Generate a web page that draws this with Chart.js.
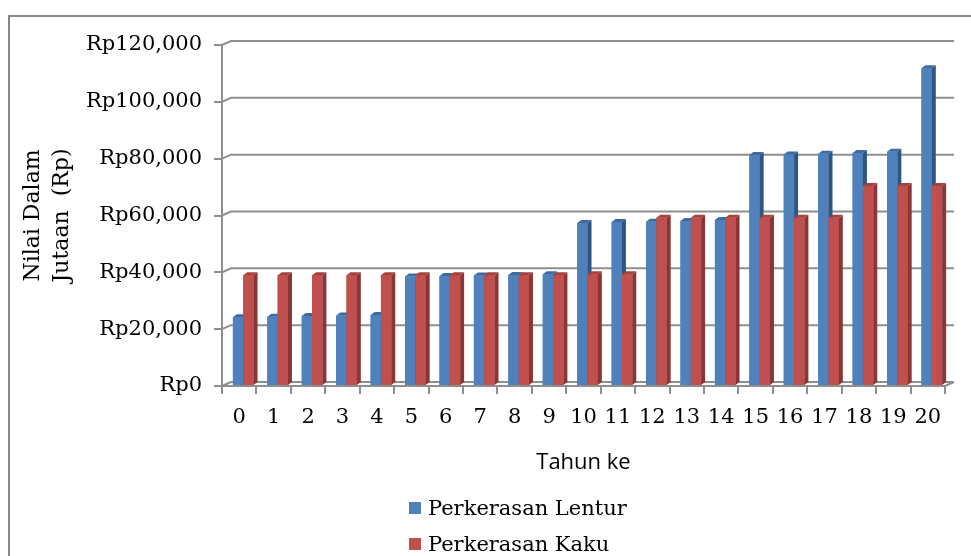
<!DOCTYPE html>
<html>
<head>
<meta charset="utf-8">
<script src="https://cdn.jsdelivr.net/npm/chart.js@4"></script>
<style>
  html, body { margin: 0; padding: 0; background: #fff; overflow: hidden; }
  #wrap { position: relative; width: 971px; height: 556px; }
  #frame { position: absolute; left: 8px; top: 15px; width: 1200px; height: 800px;
           border-left: 2px solid #868686; border-top: 2px solid #868686; }
  #chart { position: absolute; left: 0; top: 0; }
  .leg { position: absolute; left: 409px; height: 24px; display: flex; align-items: center;
         font-family: 'DejaVu Serif', serif; font-size: 21px; color: #000; white-space: nowrap; }
  .leg span.box { display: inline-block; width: 12px; height: 12px; margin-right: 7px; }
</style>
</head>
<body>
<div id="wrap">
  <div id="frame"></div>
  <canvas id="chart" width="971" height="556"></canvas>
  <div id="legend"></div>
</div>
<script>
// data
const years = ['0','1','2','3','4','5','6','7','8','9','10','11','12','13','14','15','16','17','18','19','20'];
const lentur = [24200, 24400, 24600, 24800, 25000, 38500, 38700, 38900, 39100, 39300,
                57400, 57700, 57800, 58100, 58400, 81300, 81500, 81700, 82000, 82400, 111800];
const kaku = [39000, 39000, 39000, 39000, 39000, 39000, 39000, 39000, 39000, 39000,
              39300, 39300, 59200, 59200, 59200, 59200, 59200, 59200, 70400, 70400, 70400];
const seriesNames = ['Perkerasan Lentur', 'Perkerasan Kaku'];
const yTicks = [0, 20000, 40000, 60000, 80000, 100000, 120000];

const colors = ['#4f81bd', '#c0504d'];
const sideColors = ['#2f5581', '#8a3634'];
const topColors = ['#3c6aa2', '#a8403d'];
const gridColor = '#8e8e8e';
const serif = 'DejaVu Serif';

// 3D look: back wall, floor and bar sides
const depthX = 9, depthY = 4;
const barShift = 4; // bars sit a bit behind the front plane
const box3d = {
  id: 'box3d',
  beforeDatasetsDraw(chart) {
    const ctx = chart.ctx;
    const ys = chart.scales.y;
    const {left, right} = chart.chartArea;
    ctx.save();
    ctx.strokeStyle = gridColor;
    ctx.lineWidth = 2;
    yTicks.forEach(v => {
      const y = ys.getPixelForValue(v);
      ctx.beginPath();
      ctx.moveTo(left, y);
      ctx.lineTo(left + depthX, y - depthY);
      ctx.lineTo(right + depthX, y - depthY);
      ctx.stroke();
    });
    const yb = ys.getPixelForValue(0);
    ctx.beginPath();
    ctx.moveTo(right, yb);
    ctx.lineTo(right + depthX, yb - depthY);
    ctx.stroke();
    ctx.restore();
    ctx.save();
    ctx.translate(barShift, 0);
  },
  afterDatasetsDraw(chart) {
    const ctx = chart.ctx;
    const d = 4, dy = 3;
    const metas = [chart.getDatasetMeta(0), chart.getDatasetMeta(1)];
    for (let i = 0; i < years.length; i++) {
      metas.forEach((meta, j) => {
        const el = meta.data[i];
        const {x, y, base, width} = el.getProps(['x', 'y', 'base', 'width'], true);
        const xl = x - width / 2, xr = x + width / 2;
        ctx.fillStyle = colors[j];
        ctx.fillRect(xl, y, width, base - y);
        ctx.fillStyle = sideColors[j];
        ctx.beginPath();
        ctx.moveTo(xr, y);
        ctx.lineTo(xr + d, y - dy);
        ctx.lineTo(xr + d, base - dy);
        ctx.lineTo(xr, base);
        ctx.closePath();
        ctx.fill();
        ctx.fillStyle = topColors[j];
        ctx.beginPath();
        ctx.moveTo(xl, y);
        ctx.lineTo(xl + d, y - dy);
        ctx.lineTo(xr + d, y - dy);
        ctx.lineTo(xr, y);
        ctx.closePath();
        ctx.fill();
      });
    }
    ctx.restore();
  }
};

const ctx = document.getElementById('chart').getContext('2d');
new Chart(ctx, {
  type: 'bar',
  data: {
    labels: years,
    datasets: [
      { label: seriesNames[0], data: lentur, backgroundColor: colors[0] },
      { label: seriesNames[1], data: kaku, backgroundColor: colors[1] }
    ]
  },
  options: {
    responsive: false,
    animation: false,
    datasets: { bar: { categoryPercentage: 0.6, barPercentage: 1.0 } },
    layout: { padding: { left: 8, top: 45, right: 26, bottom: 76 } },
    plugins: { legend: { display: false }, tooltip: { enabled: false } },
    scales: {
      x: {
        grid: { drawOnChartArea: false, drawTicks: true, tickLength: 8, color: gridColor, lineWidth: 2 },
        border: { color: gridColor, width: 2 },
        ticks: { color: '#000', padding: 11, font: { family: serif, size: 21 }, maxRotation: 0 },
        title: { display: true, text: 'Tahun ke', color: '#000',
                 font: { family: 'Open Sans', size: 22 }, padding: { top: 0, bottom: 4 } },
        afterFit(scale) { scale.height = 94; }
      },
      y: {
        min: 0, max: 120000,
        afterBuildTicks(scale) { scale.ticks = yTicks.map(v => ({ value: v })); },
        grid: { drawOnChartArea: false, drawTicks: true, tickLength: 8, color: gridColor, lineWidth: 2 },
        border: { color: gridColor, width: 2 },
        ticks: {
          color: '#000', padding: 12, font: { family: serif, size: 21 },
          callback: v => 'Rp' + Number(v).toLocaleString('en-US')
        },
        title: { display: true, text: ['Nilai Dalam', 'Jutaan  (Rp)'], color: '#000',
                 font: { family: serif, size: 22, lineHeight: 1.35 }, padding: { top: 10, bottom: 0 } },
        afterFit(scale) { scale.width = 214; }
      }
    }
  },
  plugins: [box3d]
});

// legend below the chart, one item per line
const legend = document.getElementById('legend');
seriesNames.forEach((name, i) => {
  const item = document.createElement('div');
  item.className = 'leg';
  item.style.top = (496 + i * 36) + 'px';
  item.innerHTML = '<span class="box" style="background:' + colors[i] + '"></span>' + name;
  legend.appendChild(item);
});
</script>
</body>
</html>
